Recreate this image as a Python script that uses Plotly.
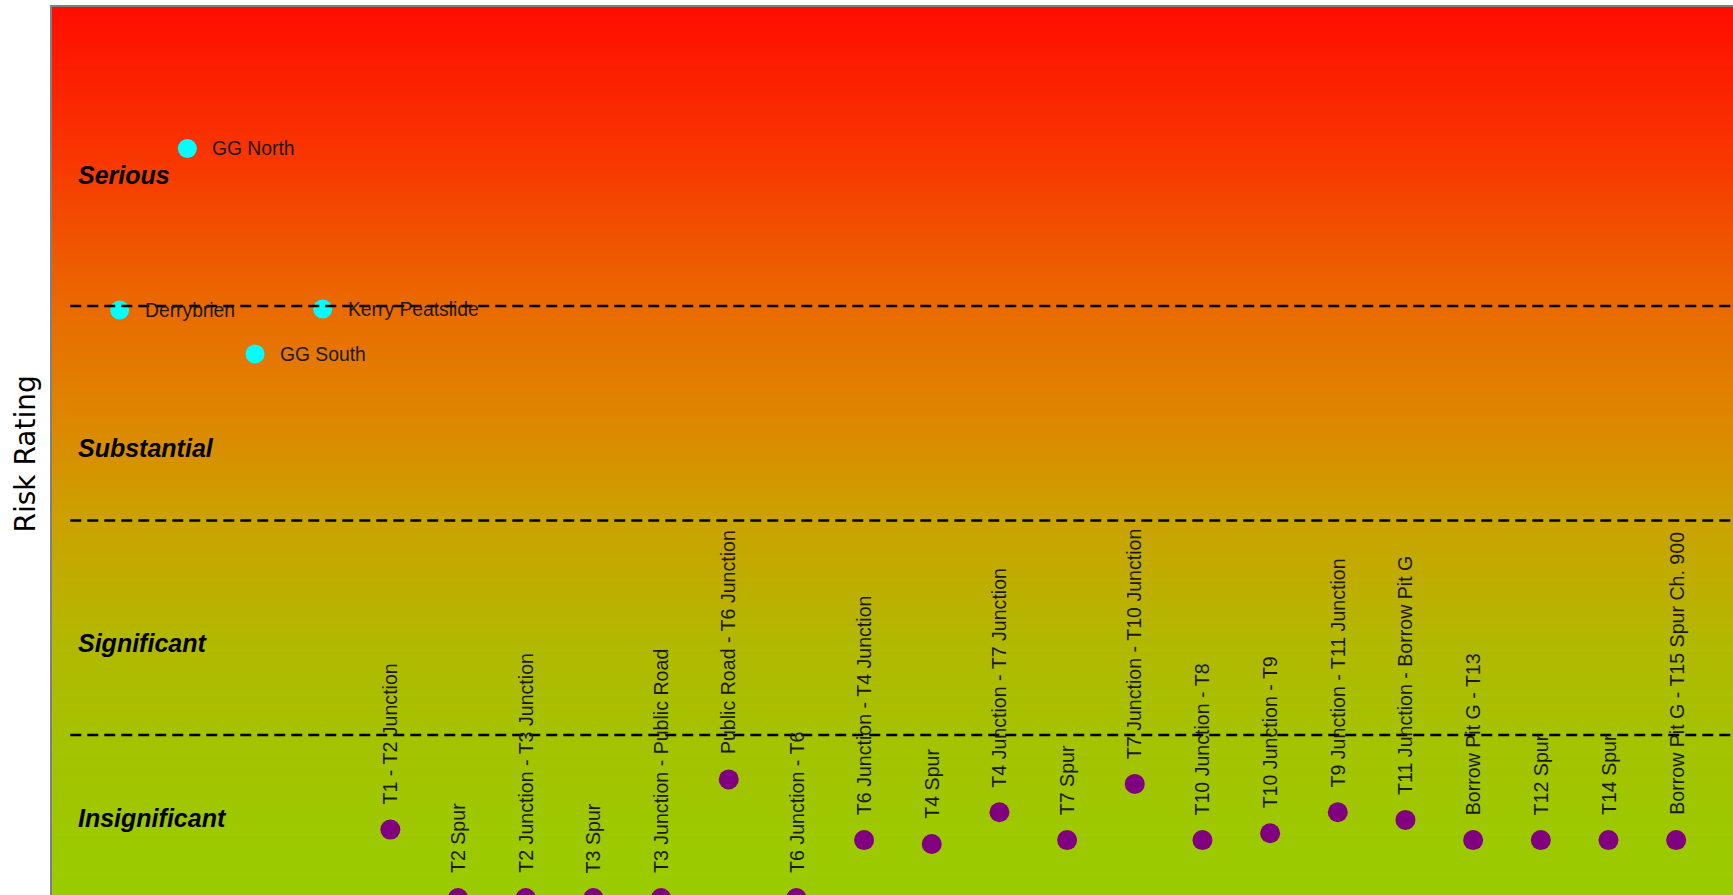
import numpy as np
import plotly.graph_objects as go

# ---------------- data ----------------
categories = [
    "Derrybrien", "GG North", "GG South", "Kerry Peatslide",
    "T1 - T2 Junction", "T2 Spur", "T2 Junction - T3 Junction", "T3 Spur",
    "T3 Junction - Public Road", "Public Road - T6 Junction", "T6 Junction - T6",
    "T6 Junction - T4 Junction", "T4 Spur", "T4 Junction - T7 Junction", "T7 Spur",
    "T7 Junction - T10 Junction", "T10 Junction - T8", "T10 Junction - T9",
    "T9 Junction - T11 Junction", "T11 Junction - Borrow Pit G", "Borrow Pit G - T13",
    "T12 Spur", "T14 Spur", "Borrow Pit G - T15 Spur Ch. 900",
]
peat_slide_names = ["Derrybrien", "GG North", "GG South", "Kerry Peatslide"]
peat_slide_risk = [29.81, 37.34, 27.76, 29.86]

route_names = categories[4:]
route_risk = [5.59, 2.40, 2.40, 2.40, 2.40, 7.93, 2.40, 5.10, 4.92, 6.40,
              5.10, 7.72, 5.10, 5.42, 6.40, 6.04, 5.10, 5.10, 5.10, 5.10]

band_names = ["Serious", "Substantial", "Significant", "Insignificant"]
band_label_y = [36.1, 23.4, 14.3, 6.13]
band_thresholds = [30, 20, 10]

y_range = [2.54, 43.94]
x_range = [0, 24.84]

# ---------------- layout geometry ----------------
W, H = 1733, 895
ML, MR, MT, MB = 52, 0, 7, 0
plot_h = H - MT - MB
px_per_y = plot_h / (y_range[1] - y_range[0])

pos = {c: i + 1 for i, c in enumerate(categories)}
peat_x = [pos[n] for n in peat_slide_names]
route_x = [pos[n] for n in route_names]

fig = go.Figure()

# background gradient
gy = np.linspace(0.5, 46, 400)
gz = [[v, v] for v in gy]
ymin, ymax = y_range
colorscale = [
    [0.0, "rgb(153,204,0)"],
    [0.18, "rgb(165,194,0)"],
    [0.287, "rgb(178,184,0)"],
    [0.422, "rgb(203,162,0)"],
    [0.535, "rgb(221,135,0)"],
    [0.663, "rgb(234,106,0)"],
    [0.84, "rgb(249,52,0)"],
    [1.0, "rgb(255,13,0)"],
]
fig.add_trace(go.Heatmap(
    x=[-1, 30], y=gy, z=gz, colorscale=colorscale, zmin=ymin, zmax=ymax,
    showscale=False, hoverinfo="skip", zsmooth="best",
))

fig.add_trace(go.Scatter(
    x=peat_x, y=peat_slide_risk, mode="markers", name="Peat slides",
    marker=dict(size=19, color="#00FFFF", line=dict(width=0)),
    showlegend=False,
))
fig.add_trace(go.Scatter(
    x=route_x, y=route_risk, mode="markers", name="Route sections",
    marker=dict(size=20, color="#800080", line=dict(width=0)),
    showlegend=False,
))

shapes = []
for t in band_thresholds:
    shapes.append(dict(type="line", xref="x", yref="y", x0=0.27, x1=30, y0=t, y1=t,
                       line=dict(color="black", width=2.5, dash="11px,6px"), layer="above"))

annotations = []
peat_font = dict(family="Liberation Sans, Arial, sans-serif", size=19.3, color="#1a1a1a")
route_font = dict(family="Liberation Sans, Arial, sans-serif", size=19.6, color="#1a1a1a")
for x, y, n in zip(peat_x, peat_slide_risk, peat_slide_names):
    annotations.append(dict(x=x, y=y, xref="x", yref="y", text=n, showarrow=False,
                            xanchor="left", yanchor="middle", xshift=23, font=peat_font))
gap_units = 23 / px_per_y
for x, y, n in zip(route_x, route_risk, route_names):
    annotations.append(dict(x=x, y=y + gap_units, xref="x", yref="y", text=n, showarrow=False,
                            textangle=-90, xanchor="center", yanchor="bottom", font=route_font))
for n, y in zip(band_names, band_label_y):
    annotations.append(dict(x=0.36, y=y, xref="x", yref="y", text=f"<b><i>{n}</i></b>",
                            showarrow=False, xanchor="left", yanchor="middle",
                            font=dict(family="Liberation Sans, Arial, sans-serif", size=25, color="black")))
annotations.append(dict(x=(24.5 - ML) / (W - ML - MR), y=(H - MB - 454) / plot_h, xref="paper", yref="paper",
                        text="Risk Rating", textangle=-90, showarrow=False,
                        xanchor="center", yanchor="middle",
                        font=dict(family="DejaVu Sans, sans-serif", size=28, color="black")))

axis_common = dict(showgrid=False, zeroline=False, showticklabels=False, ticks="",
                   showline=True, linecolor="#808080", linewidth=2, fixedrange=True)
fig.update_layout(
    width=W, height=H,
    margin=dict(l=ML, r=MR, t=MT, b=MB, pad=0),
    paper_bgcolor="white", plot_bgcolor="white",
    xaxis=dict(range=x_range, side="top", **axis_common),
    yaxis=dict(range=y_range, side="left", **axis_common),
    shapes=shapes, annotations=annotations, showlegend=False,
)

fig.write_html("out.html", config={"displayModeBar": False},
               post_script="document.body.style.margin='0';document.body.style.overflow='hidden';")
